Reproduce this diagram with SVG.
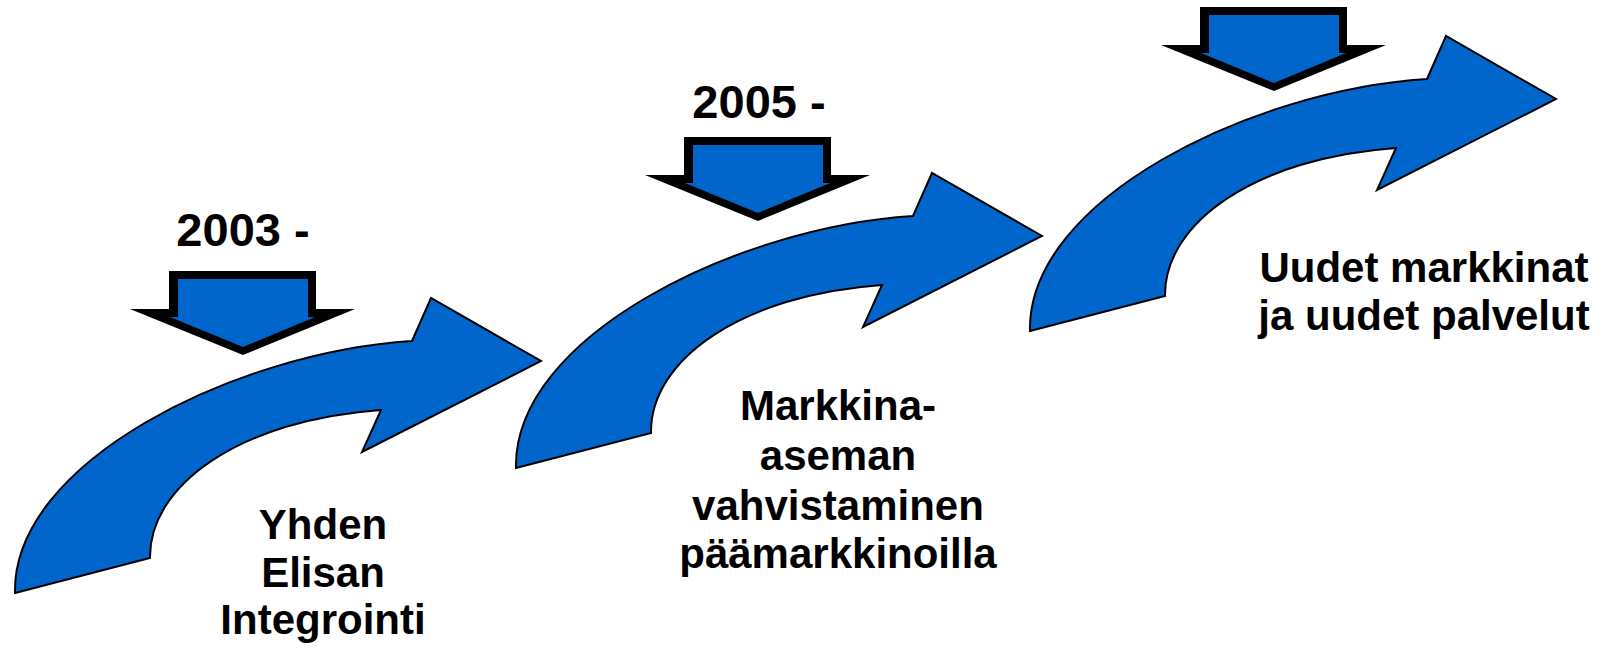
<svg xmlns="http://www.w3.org/2000/svg" xmlns:xlink="http://www.w3.org/1999/xlink" width="1614" height="649" viewBox="0 0 1614 649">
<style>
.curve{fill:#0066CC;stroke:#000;stroke-width:2;stroke-linejoin:miter}
.dblack{fill:#000}
.dblue{fill:#0066CC}
.year{font-family:"Liberation Sans",Arial,sans-serif;font-weight:bold;font-size:47px;fill:#000;text-anchor:middle}
.lbl{font-family:"Liberation Sans",Arial,sans-serif;font-weight:bold;font-size:42px;fill:#000;text-anchor:middle}
</style>
<defs>
<path id="curved" d="M 15,593 L 150,558 C 149,485 240,420 381,410 L 362,452 L 541,361 L 431,298 L 412,341 C 236,352 12,462 15,593 Z"/>
<g id="down">
<path class="dblack" d="M -74,-84 L 73,-84 L 73,-46 L 112,-46 L 0,0 L -113,-46 L -74,-46 Z"/>
<path class="dblue" d="M -65,-76 L 65,-76 L 65,-38 L 72,-38 L 0,-8 L -73,-38 L -65,-38 Z"/>
</g>
</defs>
<rect width="1614" height="649" fill="#fff"/>
<g id="connectors">
<use id="curve1" xlink:href="#curved" href="#curved" class="curve"/>
<use id="curve2" xlink:href="#curved" href="#curved" class="curve" transform="translate(501,-125)"/>
<use id="curve3" xlink:href="#curved" href="#curved" class="curve" transform="translate(1015,-262)"/>
</g>
<g id="step1">
<use xlink:href="#down" href="#down" transform="translate(243,355)"/>
<text class="year" x="243" y="246">2003 -</text>
<text class="lbl" x="323" y="539">Yhden</text>
<text class="lbl" x="323" y="587">Elisan</text>
<text class="lbl" x="323" y="634">Integrointi</text>
</g>
<g id="step2">
<use xlink:href="#down" href="#down" transform="translate(758,221)"/>
<text class="year" x="759" y="118">2005 -</text>
<text class="lbl" x="838" y="420">Markkina-</text>
<text class="lbl" x="838" y="470">aseman</text>
<text class="lbl" x="838" y="520">vahvistaminen</text>
<text class="lbl" x="838" y="568">päämarkkinoilla</text>
</g>
<g id="step3">
<use xlink:href="#down" href="#down" transform="translate(1274,91)"/>
<text class="lbl" x="1424" y="282">Uudet markkinat</text>
<text class="lbl" x="1424" y="330">ja uudet palvelut</text>
</g>
</svg>
